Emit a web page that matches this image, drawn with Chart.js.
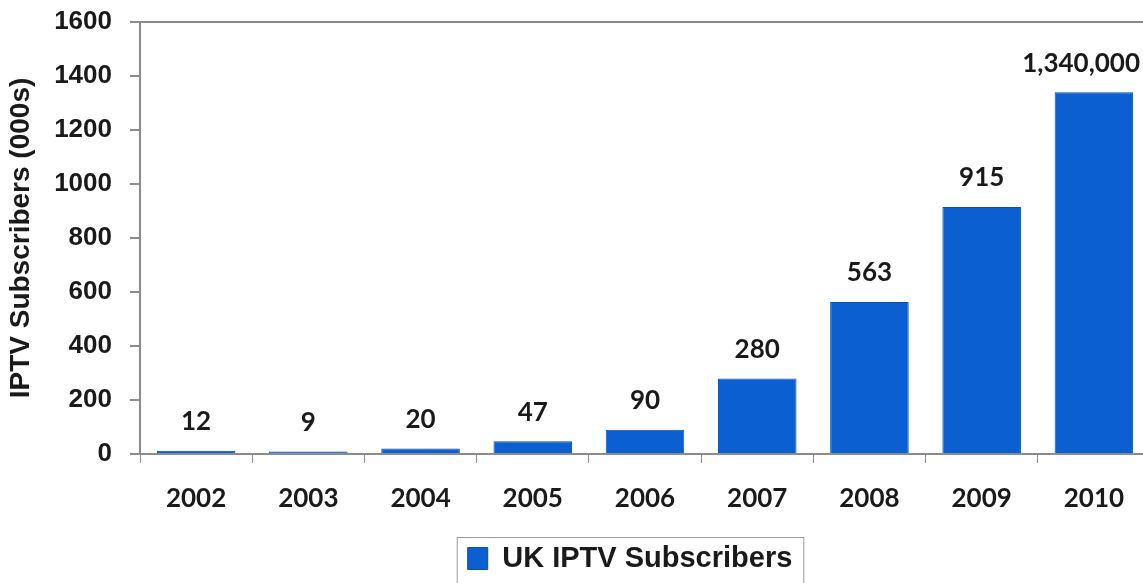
<!DOCTYPE html>
<html>
<head>
<meta charset="utf-8">
<script src="https://cdn.jsdelivr.net/npm/chart.js@4/dist/chart.umd.min.js"></script>
<style>
  html, body { margin: 0; padding: 0; background: #fff; overflow: hidden; }
  #wrap { width: 1150px; height: 583px; }
</style>
</head>
<body>
<div id="wrap"><canvas id="chart" width="1150" height="583"></canvas></div>
<script>
const years = ['2002', '2003', '2004', '2005', '2006', '2007', '2008', '2009', '2010'];
const subscribers = [12, 9, 20, 47, 90, 280, 563, 915, 1340];
const barLabels = ['12', '9', '20', '47', '90', '280', '563', '915', '1,340,000'];

const axisGrey = '#8c8c8c';

// value labels above each bar, kept inside the visible page
const barValueLabels = {
  id: 'barValueLabels',
  afterDatasetsDraw(chart) {
    const ctx = chart.ctx;
    const meta = chart.getDatasetMeta(0);
    ctx.save();
    ctx.font = 'bold 26px Lato';
    ctx.fillStyle = '#1a1a1a';
    ctx.textAlign = 'center';
    ctx.textBaseline = 'middle';
    meta.data.forEach((bar, i) => {
      const w = ctx.measureText(barLabels[i]).width;
      const x = Math.min(bar.x, 1140 - w / 2);
      ctx.fillText(barLabels[i], x, bar.y - 29);
    });
    ctx.restore();
  }
};

// move the legend a little right, as in the source picture, and frame it
const legendFrame = {
  id: 'legendFrame',
  afterLayout(chart) {
    const lg = chart.legend;
    lg.left += 55;
    lg.right += 55;
    lg.legendHitBoxes.forEach(b => { b.left += 55; });
  },
  afterDraw(chart) {
    const lg = chart.legend;
    if (!lg || !lg.legendHitBoxes.length) return;
    const box = lg.legendHitBoxes[0];
    const ctx = chart.ctx;
    ctx.save();
    ctx.strokeStyle = '#9a9a9a';
    ctx.lineWidth = 1;
    ctx.strokeRect(box.left - 10.5, box.top - 6.5, box.width + 22, 60);
    ctx.restore();
  }
};

new Chart(document.getElementById('chart'), {
  type: 'bar',
  data: {
    labels: years,
    datasets: [{
      label: 'UK IPTV Subscribers',
      data: subscribers,
      backgroundColor: '#0b5fd0',
      borderColor: '#0a4ea8',
      borderWidth: 1,
      barPercentage: 0.7,
      categoryPercentage: 1
    }]
  },
  options: {
    responsive: false,
    animation: false,
    layout: { padding: { top: 22, right: 0, left: 0, bottom: 0 } },
    plugins: {
      tooltip: { enabled: false },
      legend: {
        position: 'bottom',
        labels: {
          color: '#1a1a1a',
          font: { family: 'Liberation Sans', weight: 'bold', size: 29 },
          boxWidth: 20,
          boxHeight: 22,
          padding: 12
        }
      }
    },
    scales: {
      x: {
        afterFit(scale) { scale.height = 78; },
        grid: {
          offset: true,
          drawOnChartArea: false,
          tickLength: 9,
          color: axisGrey
        },
        border: { color: axisGrey, width: 2 },
        ticks: {
          color: '#1a1a1a',
          padding: 20,
          font: { family: 'Lato', weight: 'bold', size: 26 }
        }
      },
      y: {
        min: 0,
        max: 1600,
        afterFit(scale) {
          scale.width = 140;
          scale.paddingTop = 0;
          scale.paddingBottom = 0;
        },
        grid: {
          color: ctx => (ctx.tick && ctx.tick.value === 1600 ? axisGrey : 'rgba(0,0,0,0)'),
          tickColor: axisGrey,
          tickLength: 10,
          lineWidth: 2
        },
        border: { color: axisGrey, width: 2 },
        ticks: {
          stepSize: 200,
          color: '#1a1a1a',
          padding: 18,
          callback: v => String(v),
          font: { family: 'Liberation Sans', weight: 'bold', size: 26 }
        },
        title: {
          display: true,
          text: 'IPTV Subscribers (000s)',
          color: '#1a1a1a',
          font: { family: 'Liberation Sans', weight: 'bold', size: 28 },
          padding: { top: 4, bottom: 0 }
        }
      }
    }
  },
  plugins: [barValueLabels, legendFrame]
});
</script>
</body>
</html>
